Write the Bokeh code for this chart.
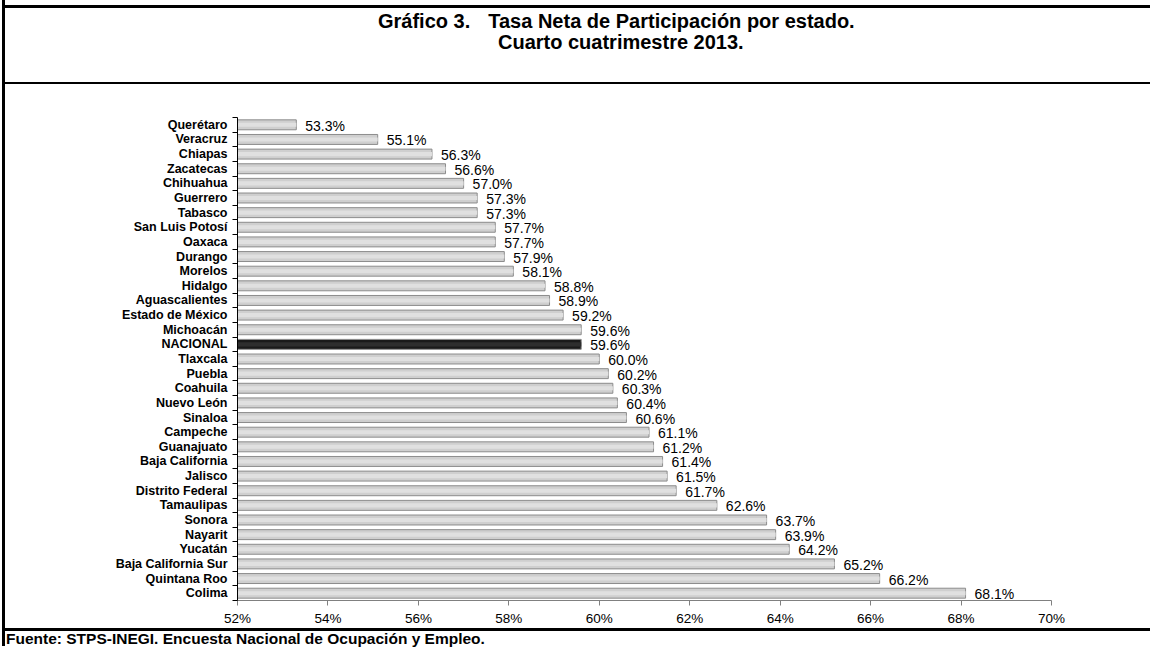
from bokeh.plotting import figure
from bokeh.models import Div, Range1d, FixedTicker, PrintfTickFormatter, ColumnDataSource, LabelSet
from bokeh.layouts import column, row
from bokeh.core.properties import value
from bokeh.embed import file_html
from bokeh.resources import INLINE

estados = ["Querétaro", "Veracruz", "Chiapas", "Zacatecas", "Chihuahua", "Guerrero", "Tabasco",
           "San Luis Potosí", "Oaxaca", "Durango", "Morelos", "Hidalgo", "Aguascalientes",
           "Estado de México", "Michoacán", "NACIONAL", "Tlaxcala", "Puebla", "Coahuila",
           "Nuevo León", "Sinaloa", "Campeche", "Guanajuato", "Baja California", "Jalisco",
           "Distrito Federal", "Tamaulipas", "Sonora", "Nayarit", "Yucatán",
           "Baja California Sur", "Quintana Roo", "Colima"]
tasas = [53.3, 55.1, 56.3, 56.6, 57.0, 57.3, 57.3, 57.7, 57.7, 57.9, 58.1, 58.8, 58.9, 59.2,
         59.6, 59.6, 60.0, 60.2, 60.3, 60.4, 60.6, 61.1, 61.2, 61.4, 61.5, 61.7, 62.6, 63.7,
         63.9, 64.2, 65.2, 66.2, 68.1]
x_ticks = [52, 54, 56, 58, 60, 62, 64, 66, 68, 70]
titulo_a = "Gráfico 3."
titulo_b = "Tasa Neta de Participación por estado."
titulo2 = "Cuarto cuatrimestre 2013."
fuente = "Fuente: STPS-INEGI. Encuesta Nacional de Ocupación y Empleo."

n = len(estados)
ypos = [n - 1 - i for i in range(n)]
base = [x_ticks[0]] * n
labels = ["%.1f%%" % v for v in tasas]
fill = ["#1a1a1a" if e == "NACIONAL" else "#cfcfcf" for e in estados]
hi = ["#2e2e2e" if e == "NACIONAL" else "#e0e0e0" for e in estados]

src = ColumnDataSource(dict(y=ypos, left=base, right=tasas, lab=labels, fill=fill, hi=hi))

W = 1145
p = figure(width=W, height=544, output_backend="svg", toolbar_location=None,
           x_range=Range1d(x_ticks[0], x_ticks[-1]), y_range=Range1d(-0.5, n - 0.5),
           min_border_left=232, min_border_right=99, min_border_top=33, min_border_bottom=27)
p.margin = 0
p.outline_line_color = None
p.xgrid.visible = False
p.ygrid.visible = False
p.background_fill_color = "white"

p.hbar(y="y", left="left", right="right", height=0.68, fill_color="fill",
       line_color="#8c8c8c", line_width=1, source=src)
p.hbar(y="y", left="left", right="right", height=0.28, fill_color="hi",
       line_color=None, source=src)

ls = LabelSet(x="right", y="y", text="lab", source=src, x_offset=9, y_offset=-1,
              text_baseline="middle", text_font=value("Liberation Sans"), text_font_size="14px",
              text_color="black")
p.add_layout(ls)

xa = p.xaxis[0]
xa.ticker = FixedTicker(ticks=x_ticks, minor_ticks=[])
xa.formatter = PrintfTickFormatter(format="%d%%")
xa.axis_line_color = "#808080"
xa.major_tick_line_color = "#808080"
xa.major_tick_out = 5
xa.major_tick_in = 0
xa.minor_tick_out = 0
xa.major_label_text_font = "Liberation Sans"
xa.major_label_text_font_size = "13.5px"
xa.major_label_text_color = "black"
xa.major_label_standoff = 5

ya = p.yaxis[0]
ya.ticker = FixedTicker(ticks=ypos, minor_ticks=[k - 0.5 for k in range(n + 1)])
ya.major_label_overrides = {yy: e for yy, e in zip(ypos, estados)}
ya.axis_line_color = "black"
ya.major_tick_out = 0
ya.major_tick_in = 0
ya.minor_tick_out = 5
ya.minor_tick_in = 0
ya.minor_tick_line_color = "black"
ya.major_label_text_font = "Liberation Sans"
ya.major_label_text_font_style = "bold"
ya.major_label_text_font_size = "12.5px"
ya.major_label_text_color = "black"
ya.major_label_standoff = 5

def blk(w, h, color="black"):
    return Div(width=w, height=h, margin=0, styles={"background-color": color})

title_div = Div(width=W, height=74, margin=0,
                text=("<div style='font-family:\"Liberation Sans\",Arial;font-weight:bold;"
                      "font-size:20px;line-height:21px;color:black;white-space:nowrap;"
                      "width:%dpx;margin-top:3px;'>"
                      "<div style='padding-left:373px'>%s<span style='display:inline-block;width:18px'></span>%s</div>"
                      "<div style='padding-left:493px'>%s</div></div>") % (W, titulo_a, titulo_b, titulo2))
foot_div = Div(width=W, height=15, margin=0,
               text=("<div style='font-family:\"Liberation Sans\",Arial;font-weight:bold;"
                     "font-size:15.5px;line-height:15px;color:black;white-space:nowrap;margin-left:1px'>%s</div>") % fuente)

inner = column(blk(W, 5, "white"), blk(W, 3), title_div, blk(W, 2), p, blk(W, 3), foot_div,
               spacing=0, margin=0)
layout = row(blk(2, 646, "white"), blk(3, 646), inner, spacing=0, margin=0)

open("out.html", "w").write(file_html(layout, INLINE))
